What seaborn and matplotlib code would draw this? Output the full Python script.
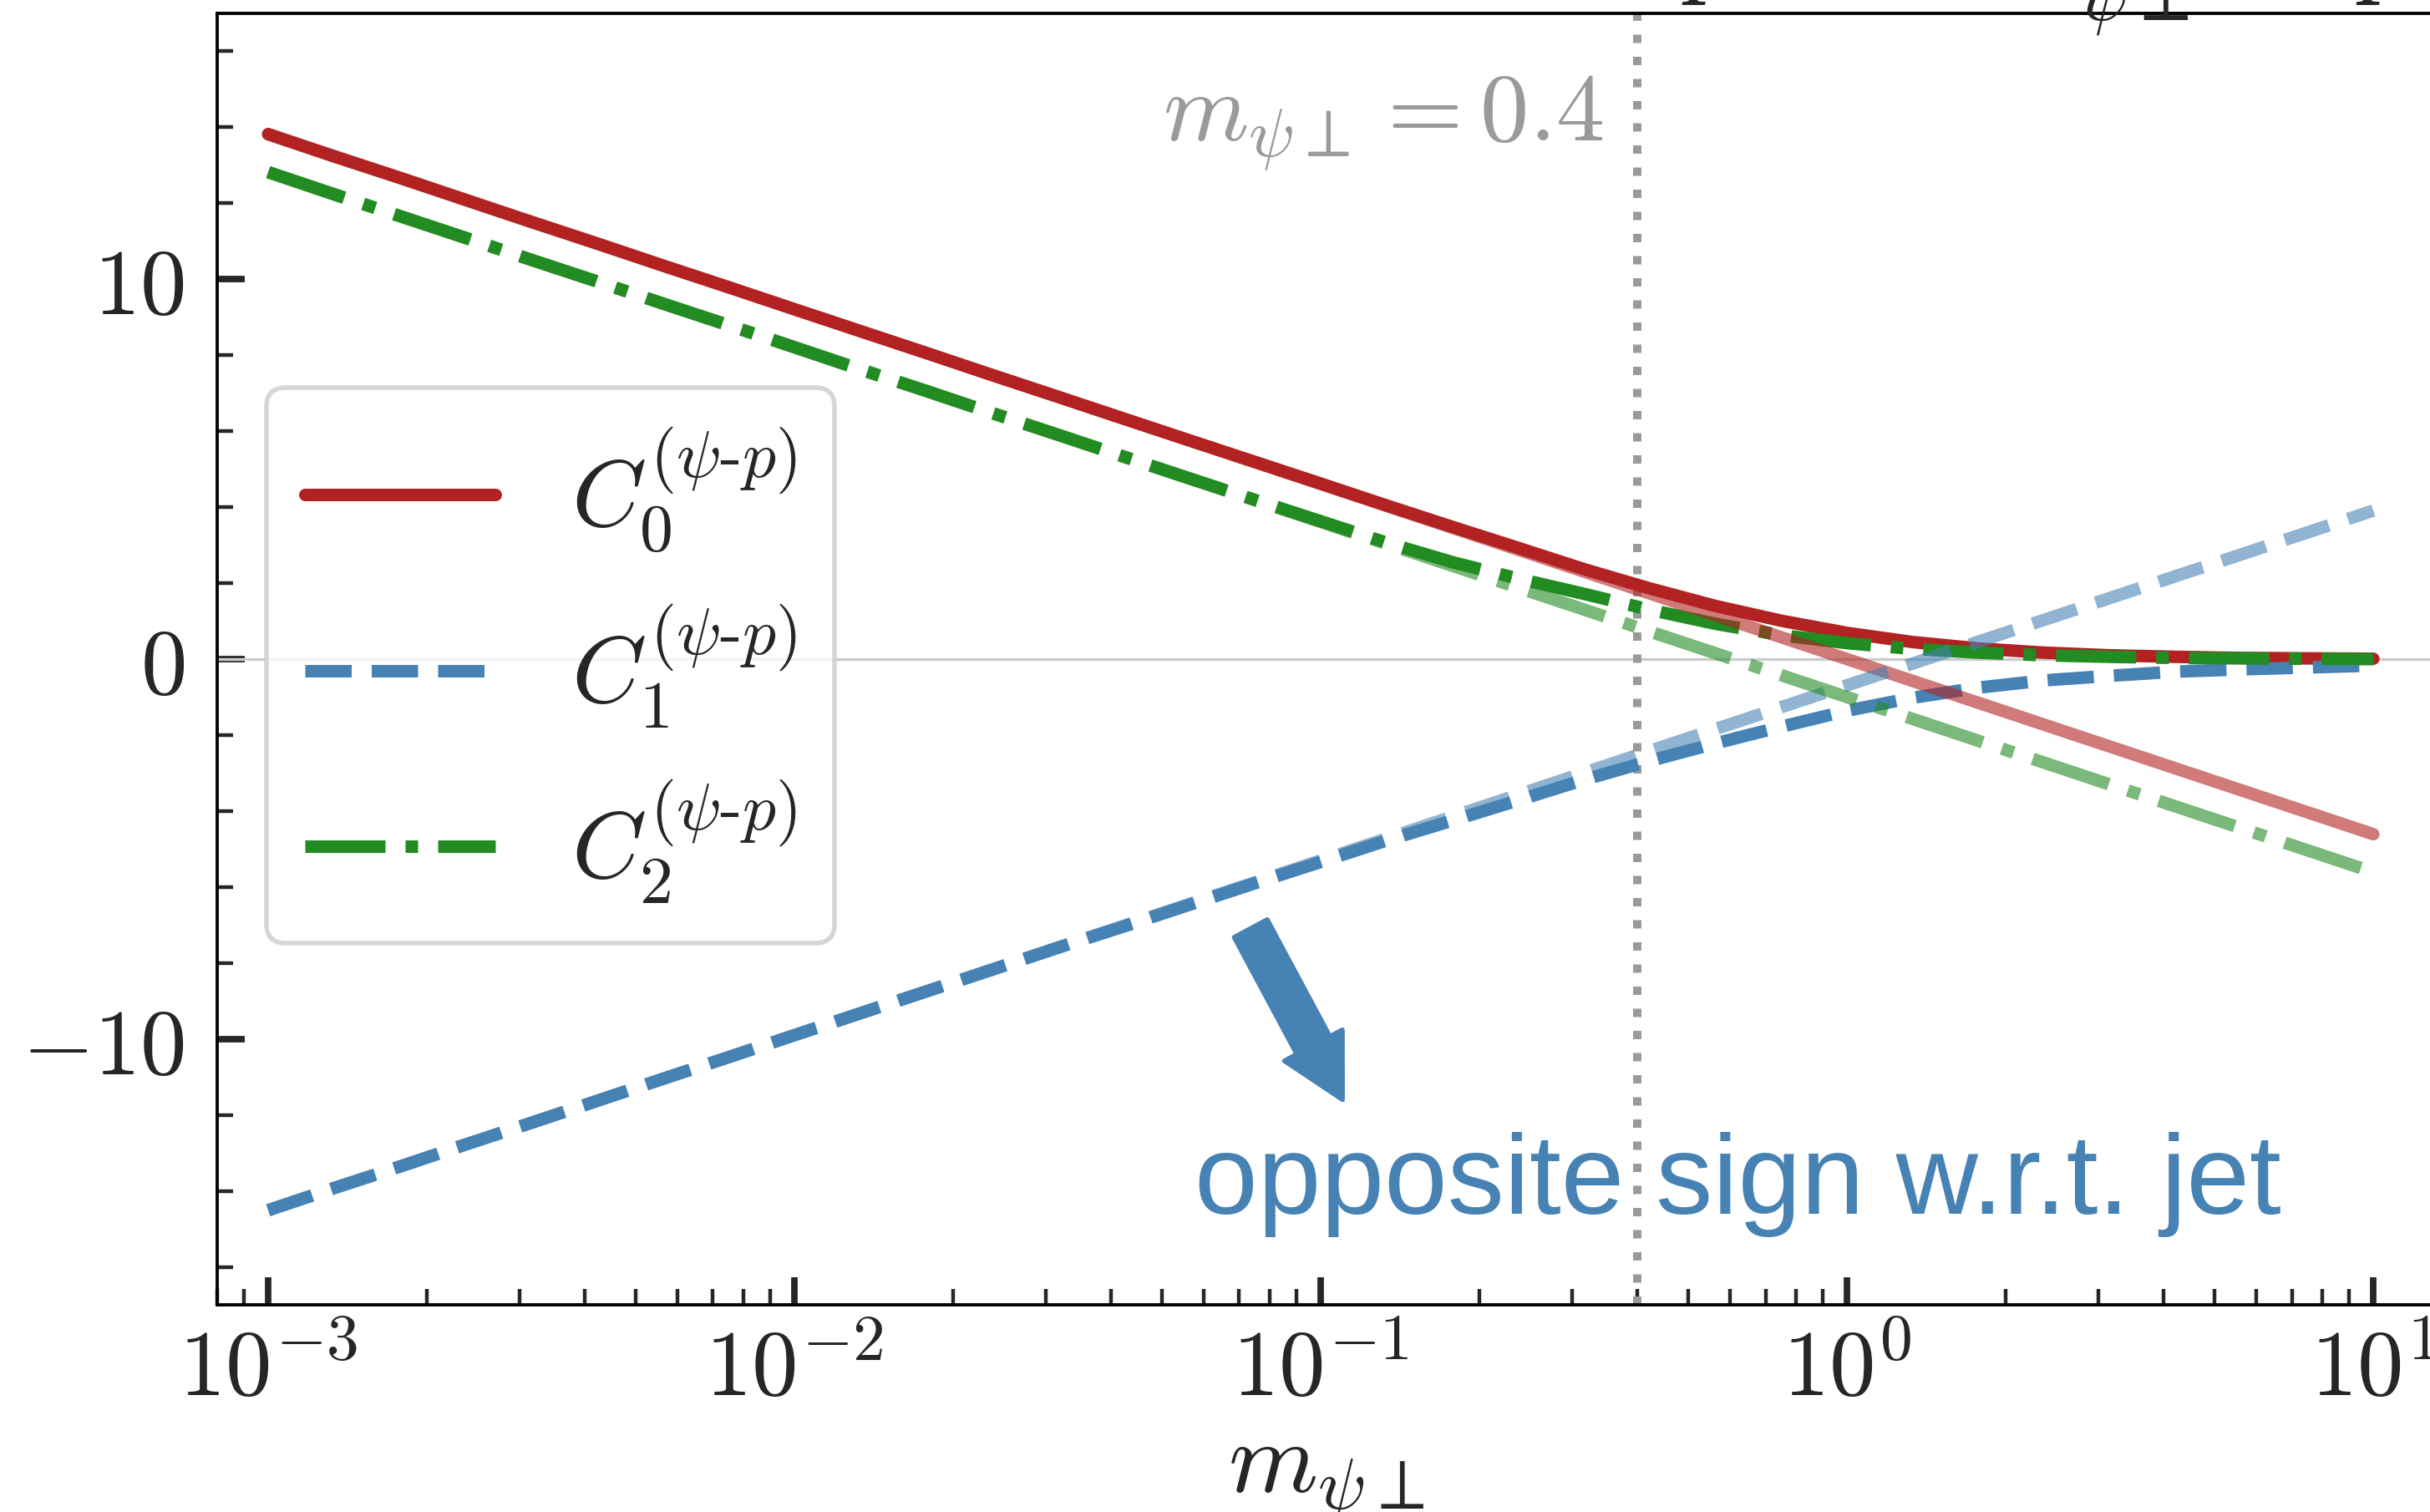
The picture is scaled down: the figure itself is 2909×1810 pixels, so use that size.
import numpy as np
import pandas as pd
import matplotlib
matplotlib.use("Agg")
import matplotlib.pyplot as plt
import seaborn as sns
from matplotlib.ticker import FuncFormatter, MultipleLocator, LogLocator, NullFormatter
from matplotlib.patches import FancyArrowPatch, ArrowStyle

# ---------------- data ----------------
m_vals = [1.0e-3, 1.33e-3, 1.78e-3, 2.37e-3, 3.16e-3, 4.22e-3, 5.62e-3, 7.50e-3,
          1.0e-2, 1.33e-2, 1.78e-2, 2.37e-2, 3.16e-2, 4.22e-2, 5.62e-2, 7.50e-2,
          0.100, 0.133, 0.178, 0.237, 0.316, 0.422, 0.562, 0.750,
          1.00, 1.33, 1.78, 2.37, 3.16, 4.22, 5.62, 7.50, 10.0]

c0_vals = [13.82, 13.24, 12.67, 12.09, 11.51, 10.94, 10.36, 9.79,
           9.21, 8.64, 8.06, 7.48, 6.91, 6.33, 5.76, 5.19,
           4.62, 4.05, 3.48, 2.93, 2.37, 1.86, 1.40, 1.01,
           0.69, 0.45, 0.28, 0.17, 0.10, 0.06, 0.03, 0.02, 0.01]

c1_vals = [-14.51, -13.93, -13.36, -12.78, -12.21, -11.63, -11.05, -10.48,
           -9.90, -9.33, -8.75, -8.18, -7.60, -7.04, -6.47, -5.90,
           -5.34, -4.78, -4.25, -3.72, -3.18, -2.68, -2.22, -1.78,
           -1.36, -1.02, -0.75, -0.56, -0.44, -0.33, -0.27, -0.22, -0.17]

c2_vals = [12.82, 12.24, 11.66, 11.09, 10.51, 9.94, 9.36, 8.79,
           8.21, 7.63, 7.06, 6.48, 5.91, 5.33, 4.76, 4.19,
           3.63, 3.07, 2.55, 2.12, 1.72, 1.30, 0.93, 0.63,
           0.42, 0.27, 0.17, 0.10, 0.06, 0.03, 0.02, 0.01, 0.00]

# small-m asymptotic lines (faded)
m_asym = [1e-3, 1e-2, 1e-1, 1.0, 10.0]
a0_vals = [13.82, 9.21, 4.61, 0.00, -4.61]
a1_vals = [-14.51, -9.90, -5.30, -0.69, 3.91]
a2_vals = [12.82, 8.21, 3.61, -1.00, -5.61]

labels = [r"$C_0^{(\psi\text{-}p)}$", r"$C_1^{(\psi\text{-}p)}$", r"$C_2^{(\psi\text{-}p)}$"]
colors = ["#B22222", "#4682B4", "#228B22"]
styles = ["-", "--", "-."]

m_cut = 0.4
cut_label = r"$m_{\psi\perp} = 0.4$"
note_text = "opposite sign w.r.t. jet"
xlabel = r"$m_{\psi\perp}$"

# ---------------- style ----------------
sns.set_style("ticks")
plt.rcParams["mathtext.fontset"] = "cm"
plt.rcParams["font.family"] = ["DejaVu Sans"]
plt.rcParams["axes.linewidth"] = 0.7

DPI = 400
fig = plt.figure(figsize=(2909 / DPI, 1810 / DPI), dpi=DPI)
ax = fig.add_axes([260 / 2909, (1810 - 1562) / 1810, (2915 - 260) / 2909, (1562 - 16) / 1810])

ax.axhline(0, color="#cccccc", lw=0.6, zorder=1)
ax.axvline(m_cut, color="#9a9a9a", ls=":", lw=1.8, zorder=1.5)

LW = 2.7
main = [c0_vals, c1_vals, c2_vals]
for vals, col, ls, lab in zip(main, colors, styles, labels):
    sns.lineplot(x=m_vals, y=vals, ax=ax, color=col, linestyle=ls, linewidth=LW,
                 label=lab, zorder=3)

asym = [a0_vals, a1_vals, a2_vals]
for vals, col, ls in zip(asym, colors, styles):
    sns.lineplot(x=m_asym, y=vals, ax=ax, color=col, linestyle=ls, linewidth=LW,
                 alpha=0.6, zorder=3.5, legend=False)

ax.set_xscale("log")
ax.set_xlim(8e-4, 13.1)
ax.set_ylim(-17, 17)

ax.yaxis.set_major_locator(MultipleLocator(10))
ax.yaxis.set_minor_locator(MultipleLocator(2))
ax.xaxis.set_major_locator(LogLocator(base=10, numticks=20))
ax.xaxis.set_minor_locator(LogLocator(base=10, subs=np.arange(2, 10), numticks=100))
ax.xaxis.set_minor_formatter(NullFormatter())
ax.xaxis.set_major_formatter(FuncFormatter(lambda v, p: r"$10^{%d}$" % int(round(np.log10(v)))))
ax.yaxis.set_major_formatter(FuncFormatter(lambda v, p: r"$%d$" % int(round(v))))

ax.tick_params(which="major", direction="in", length=6, width=1.4, labelsize=20,
               top=False, right=False)
ax.tick_params(which="minor", direction="in", length=3.5, width=0.8, top=False, right=False)
ax.tick_params(axis="x", which="major", pad=4.5)
ax.tick_params(axis="y", which="major", pad=7)
for s in ax.spines.values():
    s.set_color("black")
    s.set_linewidth(0.7)

ax.set_xlabel(xlabel, fontsize=22, labelpad=3)
ax.set_ylabel("")

leg = ax.legend(loc="upper left", bbox_to_anchor=(0.0223, 0.710), borderaxespad=0,
                fontsize=20.5, frameon=True, fancybox=True, framealpha=0.8,
                edgecolor="#cccccc")

ax.text(0.345, 13.63, cut_label, ha="right", va="baseline", fontsize=21,
        color="#9a9a9a", zorder=4)

arrow = FancyArrowPatch(posA=(0.0736, -7.09), posB=(0.110, -11.6),
                        arrowstyle=ArrowStyle.Simple(head_length=1.33, head_width=1.42,
                                                     tail_width=0.81),
                        mutation_scale=10, shrinkA=0, shrinkB=0,
                        color="#4682B4", zorder=4)
ax.add_patch(arrow)
ax.text(0.0575, -14.6, note_text, ha="left", va="baseline", fontsize=24.5,
        family=["Liberation Sans", "DejaVu Sans"], color="#4682B4", zorder=4)

# fragments of the (cropped) heading above the panel
fig.text(2013 / 2909, 1 + 18 / 1810, r"$p$", fontsize=23, ha="left", va="baseline")
fig.text(2488 / 2909, 1 - 24 / 1810, r"$\psi\perp$", fontsize=16, ha="left", va="baseline")
fig.text(2820 / 2909, 1 + 18 / 1810, r"$p$", fontsize=23, ha="left", va="baseline")

fig.savefig("out.png", dpi=DPI)
